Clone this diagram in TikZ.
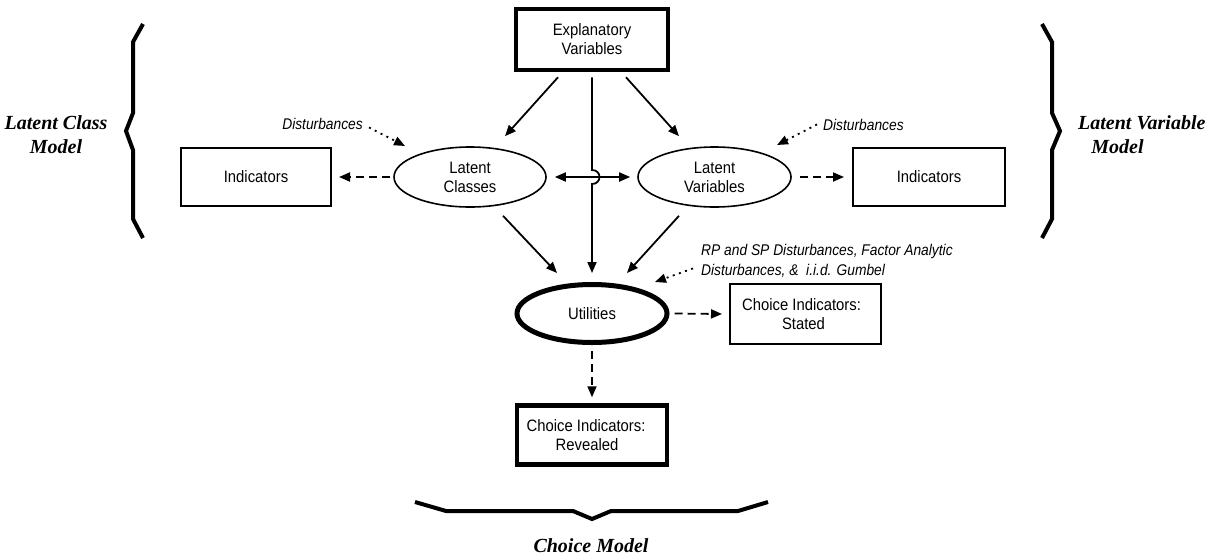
\documentclass[tikz,border=0pt]{standalone}
\usepackage{fontspec}
\setmainfont[FakeStretch=0.9]{Liberation Sans}
\newfontfamily\narrowfont[FakeStretch=0.89]{Liberation Sans}
\newfontfamily\labelfont{Liberation Serif}
\usetikzlibrary{arrows.meta,calc,shapes.geometric}
\tikzset{
  tip/.tip={Triangle[length=11pt,width=9pt]},
  maintext/.style={font=\fontsize{16.5}{19}\selectfont, align=center, inner sep=0pt},
  box/.style={maintext, draw, line width=2pt},
  thickbox/.style={maintext, draw, line width=4.5pt},
  ell/.style={maintext, ellipse, draw, line width=1.6pt},
  arr/.style={line width=1.8pt, -tip},
  dblarr/.style={line width=1.8pt, tip-tip},
  dasharr/.style={arr, dash pattern=on 8pt off 5pt},
  dotarr/.style={arr, dash pattern=on 2pt off 4.5pt},
  brace/.style={line width=4pt, line join=miter},
  dist/.style={font=\narrowfont\itshape\fontsize{15.5}{20}\selectfont, inner sep=0pt},
  model/.style={font=\labelfont\bfseries\itshape\fontsize{20}{24}\selectfont, inner sep=0pt}
}
\begin{document}
\begin{tikzpicture}[x=1pt,y=-1pt]
\useasboundingbox (0,0) rectangle (1206,555);

% nodes
\node[thickbox, minimum width=152pt, minimum height=61pt] (ev) at (592,39.5) {Explanatory\\Variables};
\node[box, minimum width=150pt, minimum height=58pt] (il) at (256,177) {Indicators};
\node[box, minimum width=152pt, minimum height=58pt] (ir) at (929,177) {Indicators};
\node[ell, minimum width=152pt, minimum height=60pt] (lc) at (470,177) {Latent\\Classes};
\node[ell, minimum width=153pt, minimum height=60pt] (lv) at (714.5,177) {Latent\\Variables};
\node[ell, line width=5pt, minimum width=150pt, minimum height=58pt] (ut) at (592,313.5) {Utilities};
\node[box, minimum width=151pt, minimum height=60pt] (st) at (805.5,314) {Choice Indicators:\hspace*{8pt}\\Stated\hspace*{4pt}};
\node[thickbox, minimum width=150pt, minimum height=59pt] (rv) at (592,435) {Choice Indicators:\hspace*{12pt}\\Revealed\hspace*{10pt}};

% disturbance texts
\node[dist, anchor=base east] (dl) at (363,129) {Disturbances};
\node[dist, anchor=base west] (dr) at (823,130) {Disturbances};
\node[dist, anchor=base west] (rp1) at (701,255) {RP and SP Disturbances, Factor Analytic};
\node[dist, anchor=base west] (rp2) at (701,275) {Disturbances, \&\ \ i.i.d. Gumbel};

% model labels
\node[model, anchor=base] (lcm1) at (56,129) {Latent Class};
\node[model, anchor=base] (lcm2) at (56,153) {Model};
\node[model, anchor=base west] (lvm1) at (1078,129) {Latent Variable};
\node[model, anchor=base] (lvm2) at (1117.5,153) {Model};
\node[model, anchor=base] (cm) at (591,552) {Choice Model};

% braces
\draw[brace] (143,24) -- (133,42) -- (133,113) -- (126,131) -- (133,150) -- (133,219) -- (143,238);
\draw[brace] (1042,24) -- (1052,42) -- (1052,113) -- (1060,131) -- (1052,150) -- (1052,219) -- (1042,238);
\draw[brace] (415,502) -- (446,511) -- (573,511) -- (592,519) -- (611,511) -- (738,511) -- (768,502);

% solid connectors
\draw[arr] ($(ev.south)+(-34,5)$) -- ($(lc.north)+(35,-10)$);
\draw[arr] ($(ev.south)+(34,5)$) -- ($(lv.north)+(-35.5,-10)$);
\coordinate (hop) at (ev.south |- lc.center);
\draw[arr] ($(ev.south)+(0,5)$) -- ($(hop)+(0,-7)$) .. controls +(10,0) and +(10,0) .. ($(hop)+(0,7)$) -- ($(ut.north)+(0,-9)$);
\draw[arr] ($(lc.south)+(33,8)$) -- ($(ut.north)+(-35,-9)$);
\draw[arr] ($(lv.south)+(-35.5,8)$) -- ($(ut.north)+(35,-9)$);
\draw[dblarr] ($(lc.east)+(8,0)$) -- ($(lv.west)+(-7,0)$);

% dashed connectors
\draw[dasharr] ($(lc.west)+(-3,0)$) -- ($(il.east)+(7,0)$);
\draw[dasharr] ($(lv.east)+(8,0)$) -- ($(ir.west)+(-8,0)$);
\draw[dasharr] ($(ut.east)+(5,0)$) -- ($(st.west)+(-7,0)$);
\draw[dasharr] ($(ut.south)+(0,6)$) -- ($(rv.north)+(0,-6)$);

% dotted connectors
\draw[dotarr] ($(dl.east)+(6,4)$) -- ($(lc.center)+(-65,-31)$);
\draw[dotarr] ($(dr.west)+(-6,0)$) -- ($(lv.center)+(62.5,-32)$);
\draw[dotarr] ($(rp2.west)+(-8,-2)$) -- ($(ut.center)+(63,-31.5)$);
\end{tikzpicture}
\end{document}
